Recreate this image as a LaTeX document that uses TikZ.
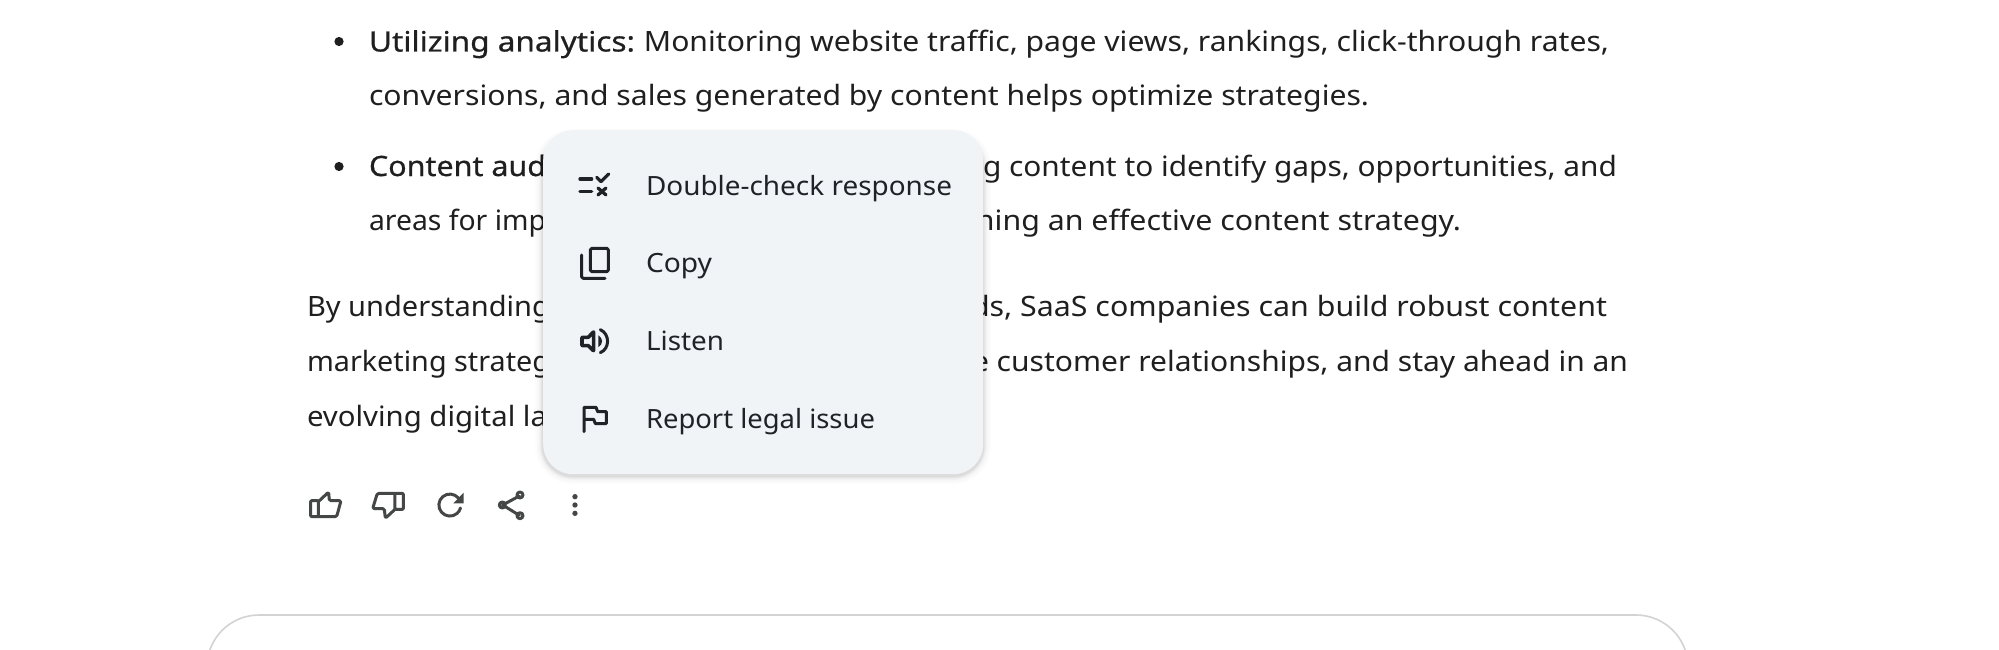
\documentclass[tikz,border=0pt]{standalone}
\usepackage{fontspec}
\usepackage{graphicx}
\setmainfont{Noto Sans}
\newfontfamily\strongfont[FakeBold=0.6]{Noto Sans}
\definecolor{ink}{HTML}{1F1F1F}
\definecolor{menuink}{HTML}{1F2328}
\definecolor{iconink}{HTML}{444746}
\definecolor{menubg}{HTML}{F0F4F7}
\definecolor{boxline}{HTML}{D3D3D3}
\newcommand{\fit}[2]{\resizebox{#1pt}{\height}{#2}}
\tikzset{
  txt/.style={anchor=base west,inner sep=0pt,outer sep=0pt,text=ink,font=\fontsize{28}{32}\selectfont},
  txtr/.style={txt,anchor=base east},
  strongtxt/.style={txt,font=\fontsize{28}{32}\strongfont},
  menutxt/.style={txt,text=menuink,font=\fontsize{26.5}{30}\selectfont},
  iconline/.style={draw=iconink,line width=3pt,line cap=round,line join=round},
  menuline/.style={draw=menuink,line width=3pt,line cap=round,line join=round},
}
\begin{document}
\begin{tikzpicture}[x=1pt,y=-1pt]
\useasboundingbox (0,0) rectangle (1999,650);
\fill[white] (0,0) rectangle (1999,650);
% body text
\fill[ink] (339,41.5) circle (4.6);
\node[strongtxt] (l1a) at (369,51.5) {\fit{266}{Utilizing analytics:}};
\node[txtr] (l1b) at (1609,51.5) {\fit{965}{Monitoring website traffic, page views, rankings, click-through rates,}};
\node[txt] (l2) at (369,106) {\fit{1000}{conversions, and sales generated by content helps optimize strategies.}};
\fill[ink] (339,166.5) circle (4.6);
\node[strongtxt] (l3a) at (369,176) {\fit{177}{Content aud}};
\node[txtr] (l3b) at (1617,176) {\fit{634}{g content to identify gaps, opportunities, and}};
\node[txt] (l4a) at (369,230.5) {\fit{177}{areas for imp}};
\node[txtr] (l4b) at (1461,230.5) {\fit{485}{ning an effective content strategy.}};
\node[txt] (l5a) at (307,316.5) {\fit{243}{By understanding}};
\node[txtr] (l5b) at (1607,316.5) {\fit{636}{ds, SaaS companies can build robust content}};
\node[txt] (l6a) at (307,371) {\fit{243}{marketing strateg}};
\node[txtr] (l6b) at (1628,371) {\fit{656}{e customer relationships, and stay ahead in an}};
\node[txt] (l7a) at (307,426) {\fit{240}{evolving digital la}};
% menu shadow
\foreach \g/\o in {8/0.012,6/0.015,4/0.02,3/0.025,2/0.03,1/0.04}{
  \fill[black,opacity=\o,rounded corners=30+\g] (543-\g,130-\g+7) rectangle (983+\g,474+\g+2);
}
% menu
\node[draw=none,fill=menubg,rounded corners=30pt,minimum width=440pt,minimum height=344pt,inner sep=0pt,anchor=north west] (menu) at (543,130) {};
\node[menutxt] (m1) at (646,195) {\fit{306}{Double-check response}};
\node[menutxt] (m2) at (646,272) {\fit{66}{Copy}};
\node[menutxt] (m3) at (646,350) {\fit{78}{Listen}};
\node[menutxt] (m4) at (646,428) {\fit{229}{Report legal issue}};
% menu icons (zoom coordinates)
\begin{scope}[shift={(530pt,-120pt)},x=0.3333pt,y=-0.3333pt]
  % double-check
  \draw[menuline,line width=3.3pt] (150,177) -- (185,177);
  \draw[menuline,line width=3.3pt] (150,215) -- (185,215);
  \draw[menuline,line width=3.3pt] (200,172) -- (213,185) -- (236,162);
  \draw[menuline,line width=3.3pt] (204,204) -- (228,225);
  \draw[menuline,line width=3.3pt] (228,204) -- (204,225);
  % copy
  \draw[menuline,rounded corners=1.5pt] (181,385) rectangle (235,455);
  \draw[menuline,rounded corners=1.5pt] (155,405) -- (155,475) -- (225,475);
  % listen
  \draw[menuline,line width=3.6pt,rounded corners=0.5pt] (156,652) -- (175,652) -- (191,635) -- (191,693) -- (175,677) -- (156,677) -- cycle;
  \fill[menuink] (205,646) .. controls (220,655) and (220,672) .. (205,682) -- cycle;
  \draw[menuline] (211,629) .. controls (240,642) and (240,686) .. (211,698);
  % flag
  \draw[menuline] (162,935) -- (162,862) -- (198,862) -- (203,875) -- (229,875) -- (229,911) -- (196,911) -- (191,898) -- (162,898);
\end{scope}
% action icons (zoom coordinates)
\begin{scope}[shift={(290pt,-470pt)},x=0.3333pt,y=-0.3333pt]
  % thumb up
  \draw[iconline,rounded corners=1pt] (85,140) -- (62,140) -- (62,92) -- (85,92) -- cycle;
  \draw[iconline,rounded corners=1.5pt] (85,95) -- (116,66) -- (118,92) -- (153,92) -- (140,140) -- (85,140);
  % thumb down
  \draw[iconline,rounded corners=1pt] (315,70) -- (340,70) -- (340,118) -- (315,118) -- cycle;
  \draw[iconline,rounded corners=1.5pt] (315,70) -- (262,70) -- (248,116) -- (283,116) -- (286,145) -- (315,118);
  % refresh
  \draw[iconline] (505,84) arc[start angle=-40,end angle=-345,radius=33];
  \fill[iconink] (521,68) -- (521,100) -- (490,100) -- cycle;
  % share
  \draw[iconline] (638,105) -- (688,78);
  \draw[iconline] (638,105) -- (688,136);
  \draw[iconline] (690,75) circle (9);
  \draw[iconline] (637,105) circle (9);
  \draw[iconline] (690,137) circle (9);
  % dots
  \fill[iconink] (855,80) circle (8);
  \fill[iconink] (855,105) circle (8);
  \fill[iconink] (855,130) circle (8);
\end{scope}
% input box
\begin{scope}
  \clip (0,0) rectangle (1999,650);
  \draw[boxline,line width=1.6pt,rounded corners=52pt] (207,615) rectangle (1688,800);
\end{scope}
\end{tikzpicture}
\end{document}
